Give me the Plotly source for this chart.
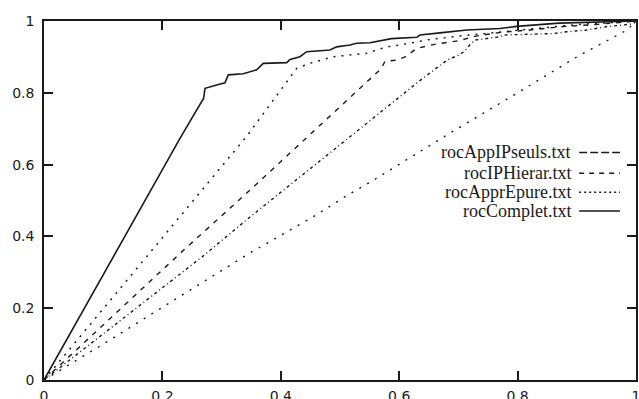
import plotly.graph_objects as go

# ---------------- data ----------------
complet_fpr = [0, 0.2297, 0.2697, 0.272, 0.2917, 0.3057, 0.3113, 0.3367, 0.3593, 0.3704, 0.41, 0.4155,
               0.4324, 0.4437, 0.4831, 0.4944, 0.5169, 0.528, 0.5507, 0.576, 0.587, 0.6296, 0.635, 0.669,
               0.714, 0.77, 0.798, 0.87, 0.939, 1.0]
complet_tpr = [0, 0.673, 0.785, 0.8125, 0.822, 0.828, 0.85, 0.853, 0.864, 0.882, 0.884, 0.893,
               0.9006, 0.9145, 0.9192, 0.928, 0.933, 0.938, 0.9396, 0.947, 0.951, 0.9546, 0.961, 0.967,
               0.975, 0.979, 0.985, 0.994, 0.997, 1.0]

epure_fpr = [0, 0.183, 0.342, 0.4268, 0.449, 0.4887, 0.545, 0.562, 0.579, 0.601, 0.6295, 0.65, 0.70,
             0.75, 0.80, 0.85, 0.90, 0.95, 1.0]
epure_tpr = [0, 0.362, 0.678, 0.868, 0.882, 0.9006, 0.910, 0.919, 0.928, 0.933, 0.9424, 0.948, 0.958,
             0.966, 0.975, 0.983, 0.99, 0.995, 1.0]

hierar_fpr = [0, 0.236, 0.348, 0.508, 0.57, 0.576, 0.596, 0.61, 0.63, 0.66, 0.70, 0.73, 0.77, 0.82,
              0.88, 0.93, 1.0]
hierar_tpr = [0, 0.362, 0.529, 0.772, 0.868, 0.888, 0.891, 0.90, 0.924, 0.935, 0.945, 0.958, 0.968,
              0.975, 0.985, 0.99, 1.0]

seuls_fpr = [0, 0.267, 0.348, 0.593, 0.635, 0.68, 0.70, 0.71, 0.72, 0.728, 0.77, 0.775, 0.86, 0.883,
             0.917, 0.95, 0.995, 1.0]
seuls_tpr = [0, 0.343, 0.454, 0.78, 0.834, 0.89, 0.905, 0.915, 0.935, 0.947, 0.956, 0.961, 0.965, 0.97,
             0.975, 0.984, 0.992, 1.0]

random_fpr = [0, 0.1, 0.256, 0.348, 0.45, 0.508, 0.55, 0.686, 0.80, 0.9, 0.985, 1.0]
random_tpr = [0, 0.1, 0.26, 0.354, 0.45, 0.51, 0.55, 0.688, 0.80, 0.9, 0.975, 1.0]

tick_vals = [0, 0.2, 0.4, 0.6, 0.8, 1]
tick_text = ["0", "0.2", "0.4", "0.6", "0.8", "1"]

legend_names = ["rocAppIPseuls.txt", "rocIPHierar.txt", "rocApprEpure.txt", "rocComplet.txt"]

# ---------------- styles ----------------
INK = "#1a1a1a"
styles = {
    "rocAppIPseuls.txt": dict(plot_dash="3px,3px,1px,3px", key_dash="8px,3px"),
    "rocIPHierar.txt": dict(plot_dash="5px,6px", key_dash="5px,5px"),
    "rocApprEpure.txt": dict(plot_dash="2px,6px", key_dash="2px,3px"),
    "rocComplet.txt": dict(plot_dash="solid", key_dash="solid"),
}

fig = go.Figure()

series = [
    ("random", random_fpr, random_tpr, "2px,7px", 1.4),
    ("rocAppIPseuls.txt", seuls_fpr, seuls_tpr, styles["rocAppIPseuls.txt"]["plot_dash"], 1.4),
    ("rocIPHierar.txt", hierar_fpr, hierar_tpr, styles["rocIPHierar.txt"]["plot_dash"], 1.4),
    ("rocApprEpure.txt", epure_fpr, epure_tpr, styles["rocApprEpure.txt"]["plot_dash"], 1.5),
    ("rocComplet.txt", complet_fpr, complet_tpr, "solid", 1.6),
]
for name, xs, ys, dash, w in series:
    fig.add_trace(go.Scatter(x=xs, y=ys, mode="lines", name=name, showlegend=False,
                             line=dict(color=INK, width=w, dash=dash)))

# gnuplot-style key: text right-aligned, line sample to its right
SERIF = "Liberation Serif, Times New Roman, DejaVu Serif, serif"
key_rows_y = [0.634, 0.576, 0.523, 0.471]
for name, ky in zip(legend_names, key_rows_y):
    fig.add_annotation(x=0.893, y=ky, xref="paper", yref="paper", text=name, showarrow=False,
                       xanchor="right", yanchor="middle",
                       font=dict(family=SERIF, size=18, color=INK))
    fig.add_shape(type="line", xref="paper", yref="paper", x0=0.904, x1=0.973, y0=ky, y1=ky,
                  line=dict(color=INK, width=1.5, dash=styles[name]["key_dash"]))

axis_common = dict(range=[0, 1], tickvals=tick_vals, ticktext=tick_text, ticks="inside", ticklen=9,
                   tickwidth=1.5, tickcolor=INK, mirror="allticks", showline=True, linewidth=1.6,
                   linecolor=INK, showgrid=False, zeroline=False, automargin=False,
                   ticklabeloverflow="allow",
                   tickfont=dict(family="DejaVu Sans", size=14, color=INK))

fig.update_xaxes(**axis_common, ticklabelstandoff=2)
fig.update_yaxes(**axis_common, ticklabelstandoff=5)

fig.update_layout(width=639, height=399, margin=dict(l=44, r=3, t=21, b=19, autoexpand=False),
                  paper_bgcolor="white", plot_bgcolor="white", showlegend=False)

fig.write_html("out.html")
